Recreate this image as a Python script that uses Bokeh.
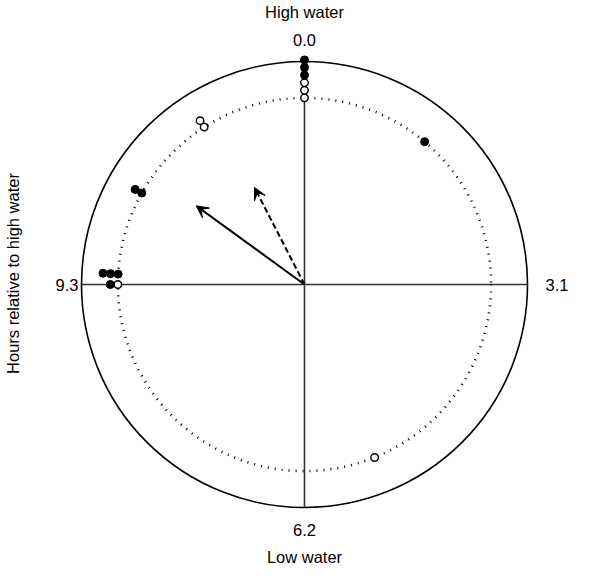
import numpy as np
from bokeh.plotting import figure
from bokeh.models import Range1d, Arrow, VeeHead
from bokeh.core.properties import value
from bokeh.embed import file_html
from bokeh.resources import INLINE

# ---- data ----
period = 12.4
tick_hours = [0.0, 3.1, 6.2, 9.3]
tick_labels = ["0.0", "3.1", "6.2", "9.3"]
point_hours = [0.0, 0.0, 0.0, 0.0, 0.0, 0.0, 1.38, 11.28, 11.28, 10.31, 10.31,
               9.41, 9.41, 9.41, 9.30, 9.30, 5.44]
point_group = ["open", "open", "open", "filled", "filled", "filled", "filled",
               "open", "open", "filled", "filled", "filled", "filled", "filled",
               "open", "filled", "open"]
arrow_hours = [10.54, 11.46]
arrow_lengths = [0.60, 0.49]
arrow_dash = ["solid", "dashed"]

# ---- geometry ----
W, H = 575, 567
R_PX = 223.0
cx_px, cy_px = 304.0, 284.0
inner_r = 0.837
step = 0.034
FONT = value("Liberation Sans")
FS = "16.5px"

p = figure(width=W, height=H, output_backend="svg", toolbar_location=None,
           x_range=Range1d(-cx_px / R_PX, (W - cx_px) / R_PX),
           y_range=Range1d(-(H - cy_px) / R_PX, cy_px / R_PX),
           min_border=0)
p.axis.visible = False
p.grid.visible = False
p.outline_line_color = None

def ang(h):
    return np.asarray(h) / period * 2 * np.pi

def px(v):
    return v / R_PX

# circles
p.circle(x=[0], y=[0], radius=1.0, fill_color=None, line_color="black", line_width=1.6)
p.circle(x=[0], y=[0], radius=inner_r, fill_color=None, line_color="black",
         line_width=2.6, line_dash="1 6")
# cross lines
p.segment(x0=[-1, 0], y0=[0, -1], x1=[1, 0], y1=[0, 1], line_color="#333333", line_width=1.6)

# points stacked radially
counts = {}
xs_f, ys_f, xs_o, ys_o = [], [], [], []
for h, g in zip(point_hours, point_group):
    k = counts.get(h, 0)
    counts[h] = k + 1
    r = inner_r + k * step
    t = ang(h)
    x, y = r * np.sin(t), r * np.cos(t)
    if g == "filled":
        xs_f.append(x); ys_f.append(y)
    else:
        xs_o.append(x); ys_o.append(y)
p.scatter(xs_o, ys_o, size=7.5, fill_color="white", line_color="black", line_width=1.4)
p.scatter(xs_f, ys_f, size=8, fill_color="black", line_color="black")

# arrows
for h, L, d in zip(arrow_hours, arrow_lengths, arrow_dash):
    t = ang(h)
    p.add_layout(Arrow(end=VeeHead(size=12, fill_color="black", line_color="black", line_width=1),
                       x_start=0, y_start=0, x_end=L * np.sin(t), y_end=L * np.cos(t),
                       line_width=2, line_color="black",
                       line_dash="solid" if d == "solid" else "6 3"))

# tick labels (0.0 top, 3.1 right, 6.2 bottom, 9.3 left)
gap_v = px(22)
p.text(x=[0, 0], y=[1 + gap_v, -(1 + gap_v)], text=[tick_labels[0], tick_labels[2]],
       text_font=FONT, text_font_size=FS, text_align="center", text_baseline="middle")
p.text(x=[1 + px(18)], y=[0], text=[tick_labels[1]], text_font=FONT, text_font_size=FS,
       text_align="left", text_baseline="middle")
p.text(x=[-(1 + px(3))], y=[0], text=[tick_labels[3]], text_font=FONT, text_font_size=FS,
       text_align="right", text_baseline="middle")

p.text(x=[0], y=[px(cy_px - 11)], text=["High water"], text_font=FONT,
       text_font_size=FS, text_align="center", text_baseline="middle")
p.text(x=[0], y=[-px(272)], text=["Low water"], text_font=FONT,
       text_font_size=FS, text_align="center", text_baseline="middle")
p.text(x=[-px(cx_px - 12)], y=[px(11)], text=["Hours relative to high water"],
       text_font=FONT, text_font_size=FS, text_align="center",
       text_baseline="middle", angle=np.pi / 2)

open("out.html", "w").write(file_html(p, INLINE))
